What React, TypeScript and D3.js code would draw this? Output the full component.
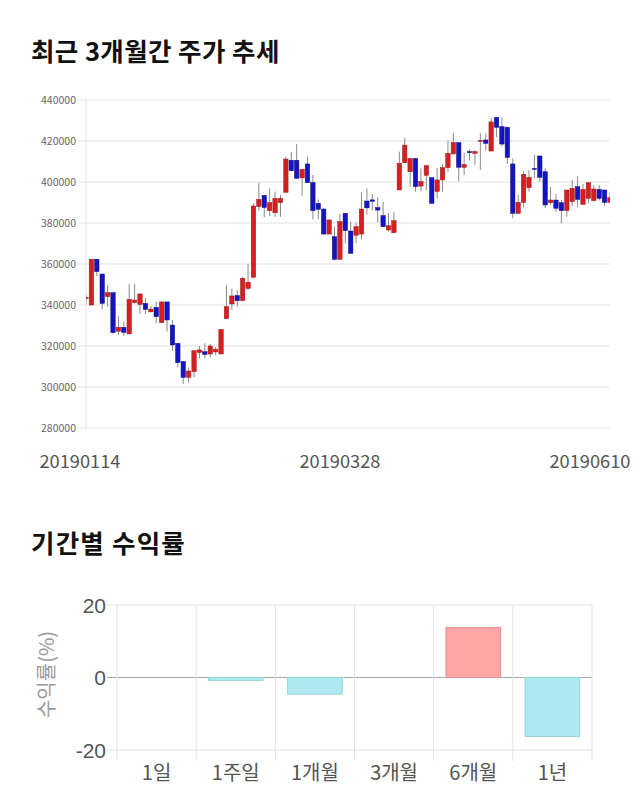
import React from 'react';
import * as d3 from 'd3';

// ---- Candlestick data (3 months, daily) ----
const openPrices = [343200,340000,362300,355100,344100,346000,327200,329100,325900,341200,340300,340800,336700,338900,331400,341500,330200,321300,312400,304700,307500,316800,317200,316100,317100,316100,333300,340500,344600,342100,348100,353500,388000,393500,386000,385000,389900,395000,410600,410600,402000,408800,399700,389600,386800,374600,373300,362300,384700,376100,374000,374600,390700,391300,387500,383600,376600,375300,396100,409400,405000,411500,398000,403300,402100,395400,401000,407000,413700,419200,407200,414800,414000,419900,420500,415100,431500,427000,426700,408800,384700,390100,397200,406700,412700,405000,389900,391200,389900,386000,390400,397700,389100,392000,390900,396400,396100,390100];
const highPrices = [345000,362300,362300,355100,349800,346000,334600,331900,350200,350200,345400,343300,339500,341600,341500,341500,332700,321300,312400,309600,317700,320000,321300,321000,319500,328100,349800,347900,347100,353800,360000,389600,399700,393500,396900,395300,393700,412400,414600,418500,406200,412400,403400,391500,387200,381500,378200,384400,384700,380700,380200,394800,396900,394100,392500,390400,385000,385500,414800,421600,411500,411500,406700,408000,402100,406700,408800,420200,424100,419200,414300,415900,415600,423700,423700,431100,431500,431500,426700,411500,393700,405400,405900,413200,412700,406700,397700,394100,391200,396100,401000,402600,399000,399700,398500,398500,396100,394800];
const lowPrices = [341000,340000,354100,337900,339200,326000,325400,324900,325900,340800,335600,335600,336300,331100,331100,327000,317600,309600,301500,302100,304700,314000,314000,314800,315500,316100,333300,337600,339200,342100,347300,353500,386000,382800,383400,383100,383100,395000,405500,401800,393200,399700,381800,381800,374600,374600,361700,362300,370100,365200,370100,372000,384100,386300,380200,377900,375800,375300,396100,409400,397700,395300,395300,396100,389300,392000,395300,405000,413200,400200,403400,410400,408300,405900,415400,415100,421800,417200,408800,382300,384700,387600,395300,401800,400200,387300,388800,385500,379800,383100,388200,387600,389100,389600,390900,391000,388300,389600];
const closePrices = [343800,362300,356300,340800,346000,326500,329100,326700,342800,342400,345400,337900,338000,334300,341500,332700,320500,311900,304700,307800,317700,318100,315900,320000,318400,328100,339200,344400,342100,353000,351100,388300,391500,387600,389900,392000,392000,411200,405500,401800,406200,399700,386000,386700,374600,381500,362300,380700,376300,365200,378200,386800,387400,390600,386300,378200,378700,381100,409100,418000,411500,397700,400200,408000,389600,401000,407000,414000,419200,407200,408500,414300,414800,420300,418900,429300,426700,418500,412000,384700,390100,403700,402300,406200,402300,388800,391200,387200,386000,396100,396900,391500,396400,399700,396600,392000,390100,392400];

const priceTicks = [280000, 300000, 320000, 340000, 360000, 380000, 400000, 420000, 440000];
const dateTickLabels = ['20190114', '20190328', '20190610'];
const dateTickIndex = [0, 47, 97];

// ---- Period returns ----
const periods = ['1일', '1주일', '1개월', '3개월', '6개월', '1년'];
const returnsPct = [0, -0.8, -4.6, 0, 13.8, -16.3];
const returnTicks = [-20, 0, 20];

const FONT = "'Noto Sans CJK KR', 'Noto Sans', sans-serif";
const ARIAL = "'Liberation Sans', Arial, sans-serif";
const UP = '#d42020';
const UP_STROKE = '#a01515';
const DOWN = '#1414c4';
const DOWN_STROKE = '#0a0a8a';

export default function App() {
  // candlestick chart geometry
  const cL = 86, cR = 610, cT = 100, cB = 428;
  const n = openPrices.length;
  const x = d3.scalePoint<number>().domain(d3.range(n)).range([cL, cR]);
  const y = d3.scaleLinear().domain([280000, 440000]).range([cB, cT]);
  const bodyW = 4.4;

  // bar chart geometry
  const bL = 117, bR = 592, bT = 605, bB = 750;
  const xb = d3.scaleBand<string>().domain(periods).range([bL, bR]).paddingInner(0.31).paddingOuter(0.155);
  const xbFull = d3.scaleBand<string>().domain(periods).range([bL, bR]);
  const yb = d3.scaleLinear().domain([-20, 20]).range([bB, bT]);

  const dateLabelX = (i: number) => {
    const px = x(dateTickIndex[i]) as number;
    return Math.min(590, px) - (i === 0 ? 6 : 0);
  };

  return (
    <svg width={640} height={810} style={{ position: 'absolute', left: 0, top: 0, background: '#fff' }} fontFamily={FONT}>
      <defs>
        <clipPath id="cclip">
          <rect x={cL} y={cT - 5} width={cR - cL} height={cB - cT + 10} />
        </clipPath>
      </defs>
      <text x={31} y={61} fontSize={25.5} fontWeight={700} fill="#111" letterSpacing={0.4}>최근 3개월간 주가 추세</text>

      {/* grid */}
      {priceTicks.map((t) => (
        <g key={t}>
          <line x1={cL - 8} x2={cR} y1={y(t)} y2={y(t)} stroke="#e3e3e3" strokeWidth={1} />
          <text x={76} y={y(t) + 4} fontSize={10.5} fill="#666" textAnchor="end">{t}</text>
        </g>
      ))}
      <line x1={cL} x2={cL} y1={cT} y2={cB} stroke="#e3e3e3" strokeWidth={1} />

      {/* candles */}
      <g clipPath="url(#cclip)">
        {openPrices.map((o, i) => {
          const c = closePrices[i];
          const up = c >= o;
          const cx = x(i) as number;
          const top = y(Math.max(o, c));
          const bot = y(Math.min(o, c));
          return (
            <g key={i}>
              <line x1={cx} x2={cx} y1={y(highPrices[i])} y2={y(lowPrices[i])} stroke="#8a8a8a" strokeWidth={1} />
              <rect x={cx - bodyW / 2} y={top} width={bodyW} height={Math.max(1, bot - top)}
                fill={up ? UP : DOWN} stroke={up ? UP_STROKE : DOWN_STROKE} strokeWidth={0.5} />
            </g>
          );
        })}
      </g>

      {dateTickLabels.map((d, i) => (
        <text key={d} x={dateLabelX(i)} y={468} fontSize={18} fill="#555" textAnchor="middle"
          textLength={81} lengthAdjust="spacingAndGlyphs">{d}</text>
      ))}

      {/* second chart */}
      <text x={31} y={553} fontSize={25.5} fontWeight={700} fill="#111" letterSpacing={1.2}>기간별 수익률</text>

      {returnTicks.map((t) => (
        <g key={t}>
          <line x1={bL - 10} x2={bR} y1={yb(t)} y2={yb(t)} stroke={t === 0 ? '#aaaaaa' : '#e3e3e3'} strokeWidth={1} />
          <text x={106} y={yb(t) + 7.5} fontSize={21} fill="#555" textAnchor="end" fontFamily={ARIAL}>{t}</text>
        </g>
      ))}
      {periods.map((p) => (
        <line key={'v' + p} x1={xbFull(p)} x2={xbFull(p)} y1={bT} y2={bB + 11} stroke="#e3e3e3" strokeWidth={1} />
      ))}
      <line x1={bR} x2={bR} y1={bT} y2={bB + 11} stroke="#e3e3e3" strokeWidth={1} />

      {periods.map((p, i) => {
        const v = returnsPct[i];
        if (v === 0) return null;
        const y0 = yb(Math.max(0, v));
        const y1 = yb(Math.min(0, v));
        return (
          <rect key={'b' + p} x={xb(p)} y={y0} width={xb.bandwidth()} height={y1 - y0}
            fill={v > 0 ? '#ffa6a6' : '#b0e8f2'} stroke={v > 0 ? '#e89090' : '#94d4df'} strokeWidth={1} />
        );
      })}

      {periods.map((p) => (
        <text key={'l' + p} x={(xbFull(p) as number) + xbFull.bandwidth() / 2} y={780} fontSize={20} fill="#555" textAnchor="middle">{p}</text>
      ))}

      <text transform={`translate(54, ${yb(0) - 3}) rotate(-90)`} fontSize={20} fill="#999" textAnchor="middle">수익률(%)</text>
    </svg>
  );
}
